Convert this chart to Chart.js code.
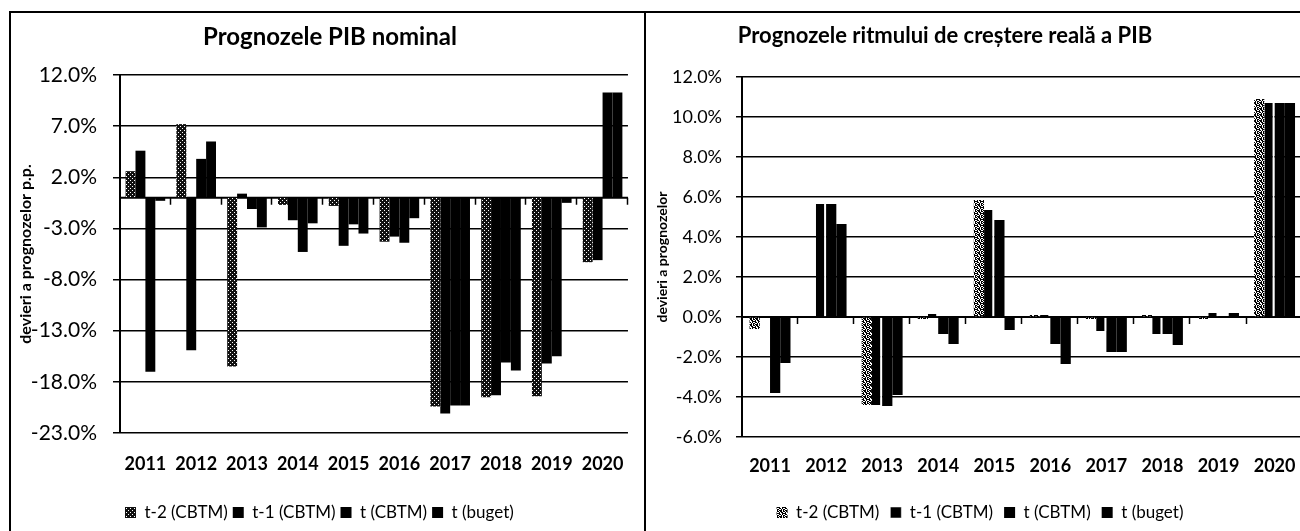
<!DOCTYPE html>
<html><head><meta charset="utf-8">
<script src="https://cdn.jsdelivr.net/npm/chart.js@4/dist/chart.umd.min.js"></script>
<style>
html,body{margin:0;padding:0;width:1300px;height:531px;overflow:hidden;background:#fff;}
#frame{position:absolute;left:9px;top:11px;width:1400px;height:600px;border-left:2px solid #000;border-top:2px solid #000;}
#divider{position:absolute;left:644px;top:11px;width:2px;height:600px;background:#000;}
#c1wrap{position:absolute;left:11px;top:13px;width:633px;height:518px;}
#c2wrap{position:absolute;left:646px;top:13px;width:668px;height:518px;}
</style></head>
<body>
<div id="frame"></div><div id="divider"></div>
<div id="c1wrap"><canvas id="c1" width="633" height="518"></canvas></div>
<div id="c2wrap"><canvas id="c2" width="668" height="518"></canvas></div>
<script>
const years = ['2011','2012','2013','2014','2015','2016','2017','2018','2019','2020'];
const seriesNames = ['t-2 (CBTM)','t-1 (CBTM)','t (CBTM)','t (buget)'];

// Left chart: Prognozele PIB nominal (deviations, p.p.)
const nomT2 = [2.6, 7.2, -16.5, -0.7, -0.8, -4.3, -20.4, -19.5, -19.4, -6.3];
const nomT1 = [4.6, -14.9, 0.4, -2.2, -4.7, -3.8, -21.1, -19.3, -16.2, -6.1];
const nomT  = [-17.0, 3.8, -1.1, -5.3, -2.6, -4.4, -20.3, -16.1, -15.5, 10.3];
const nomTB = [-0.3, 5.5, -2.9, -2.5, -3.5, -2.0, -20.3, -16.9, -0.5, 10.3];

// Right chart: Prognozele ritmului de creștere reală a PIB
const realT2 = [-0.6, 0.0, -4.4, -0.1, 5.85, 0.1, -0.1, 0.1, -0.1, 10.9];
const realT1 = [0.0, 5.65, -4.4, 0.15, 5.35, 0.1, -0.7, -0.85, 0.2, 10.7];
const realT  = [-3.8, 5.65, -4.45, -0.85, 4.85, -1.35, -1.75, -0.85, 0.0, 10.7];
const realTB = [-2.3, 4.65, -3.9, -1.35, -0.65, -2.35, -1.75, -1.4, 0.2, 10.7];

const nomAxis = {min: -23, max: 12, step: 5};
const realAxis = {min: -6, max: 12, step: 2};

Chart.defaults.font.family = 'Lato, "Open Sans", sans-serif';
Chart.defaults.color = '#000';

function makePattern(rows, dark, light) {
  const h = rows.length, w = rows[0].length;
  const c = document.createElement('canvas'); c.width = w; c.height = h;
  const g = c.getContext('2d');
  g.fillStyle = light; g.fillRect(0, 0, w, h);
  g.fillStyle = dark;
  rows.forEach((r, j) => { for (let i = 0; i < w; i++) if (r[i] === '1') g.fillRect(i, j, 1, 1); });
  return g.createPattern(c, 'repeat');
}
const denseGrey = makePattern(['1111','1011','1111','1110'], '#111', '#fff');
const speckle = makePattern(['101101','010110','110011','011010','100101','011101'], '#000', '#fff');

const decor = {
  id: 'decor',
  beforeDatasetsDraw(chart) {
    const {ctx, chartArea: a, scales: {x, y}} = chart;
    const y0 = y.getPixelForValue(0);
    ctx.save();
    ctx.strokeStyle = '#000';
    ctx.lineWidth = 2;
    ctx.beginPath(); ctx.moveTo(a.left, y0); ctx.lineTo(a.right, y0); ctx.stroke();
    ctx.lineWidth = 1.5;
    const n = chart.data.labels.length, step = (a.right - a.left) / n;
    for (let i = 1; i <= n; i++) {
      const px = Math.round(a.left + i * step) - 0.5;
      ctx.beginPath(); ctx.moveTo(px, y0); ctx.lineTo(px, y0 + 7); ctx.stroke();
    }
    ctx.restore();
  },
  afterDraw(chart, args, opts) {
    if (!opts || !opts.text) return;
    const ctx = chart.ctx;
    ctx.save();
    ctx.font = 'bold ' + opts.size + 'px Lato, "Open Sans", sans-serif';
    ctx.fillStyle = '#000';
    ctx.textAlign = 'center';
    ctx.textBaseline = 'alphabetic';
    ctx.fillText(opts.text, opts.x, opts.y);
    ctx.restore();
  }
};

function pct(v) { return v.toFixed(1) + '%'; }

new Chart(document.getElementById('c1'), {
  type: 'bar',
  data: {
    labels: years,
    datasets: [
      {label: seriesNames[0], data: nomT2, backgroundColor: denseGrey},
      {label: seriesNames[1], data: nomT1, backgroundColor: '#000'},
      {label: seriesNames[2], data: nomT,  backgroundColor: '#000'},
      {label: seriesNames[3], data: nomTB, backgroundColor: '#000'}
    ]
  },
  options: {
    responsive: false, animation: false,
    categoryPercentage: 0.78, barPercentage: 1.0,
    borderWidth: 0,
    layout: {padding: {top: 62, right: 11, left: 0, bottom: 0}},
    plugins: {
      tooltip: {enabled: false},
      title: {display: false},
      legend: {
        position: 'bottom', fullSize: false, align: 'start',
        labels: {font: {size: 17}, color: '#000', boxWidth: 11, boxHeight: 11, padding: 5}
      },
      decor: {text: 'Prognozele PIB nominal', x: 319, y: 32, size: 24}
    },
    scales: {
      x: {
        grid: {display: false, drawTicks: false},
        border: {display: false},
        ticks: {font: {size: 18, weight: 'bold'}, padding: 20, color: '#000'},
        afterFit: s => { s.height = 66; }
      },
      y: {
        min: nomAxis.min, max: nomAxis.max,
        ticks: {stepSize: nomAxis.step, callback: v => pct(v), font: {size: 21}, padding: 16, color: '#000'},
        grid: {color: '#000', lineWidth: 1.5, tickLength: 7, drawTicks: true},
        border: {display: true, color: '#000', width: 2},
        title: {display: true, text: 'devieri a prognozelor p.p.', font: {size: 16, weight: 'bold'}, padding: {top: 5, bottom: 0}, color: '#000'},
        afterFit: s => { s.width = 109; }
      }
    }
  },
  plugins: [decor]
});

new Chart(document.getElementById('c2'), {
  type: 'bar',
  data: {
    labels: years,
    datasets: [
      {label: seriesNames[0], data: realT2, backgroundColor: speckle, borderWidth: 0},
      {label: seriesNames[1], data: realT1, backgroundColor: '#000', borderColor: '#fff', borderWidth: {left: 0, top: 0, bottom: 0, right: 2}},
      {label: seriesNames[2], data: realT,  backgroundColor: '#000', borderWidth: 0},
      {label: seriesNames[3], data: realTB, backgroundColor: '#000', borderWidth: 0}
    ]
  },
  options: {
    responsive: false, animation: false,
    categoryPercentage: 0.73, barPercentage: 1.0,
    layout: {padding: {top: 64, right: 0, left: 0, bottom: 0}},
    plugins: {
      tooltip: {enabled: false},
      title: {display: false},
      legend: {
        position: 'bottom',
        labels: {font: {size: 17}, color: '#000', boxWidth: 11, boxHeight: 11, padding: 11}
      },
      decor: {text: 'Prognozele ritmului de creștere reală a PIB', x: 299, y: 30, size: 22}
    },
    scales: {
      x: {
        grid: {display: false, drawTicks: false},
        border: {display: false},
        ticks: {font: {size: 18, weight: 'bold'}, padding: 18, color: '#000'},
        afterFit: s => { s.height = 56; }
      },
      y: {
        min: realAxis.min, max: realAxis.max,
        ticks: {stepSize: realAxis.step, callback: v => pct(v), font: {size: 18}, padding: 14, color: '#000'},
        grid: {color: '#000', lineWidth: 1.5, tickLength: 6, drawTicks: true},
        border: {display: true, color: '#000', width: 2},
        title: {display: true, text: 'devieri a prognozelor', font: {size: 14, weight: 'bold'}, padding: {top: 8, bottom: 0}, color: '#000'},
        afterFit: s => { s.width = 96; }
      },
      yPad: {
        position: 'right', display: true,
        grid: {display: false, drawTicks: false}, border: {display: false},
        ticks: {display: false},
        afterFit: s => { s.width = 11; }
      }
    }
  },
  plugins: [decor]
});
</script>
</body></html>
